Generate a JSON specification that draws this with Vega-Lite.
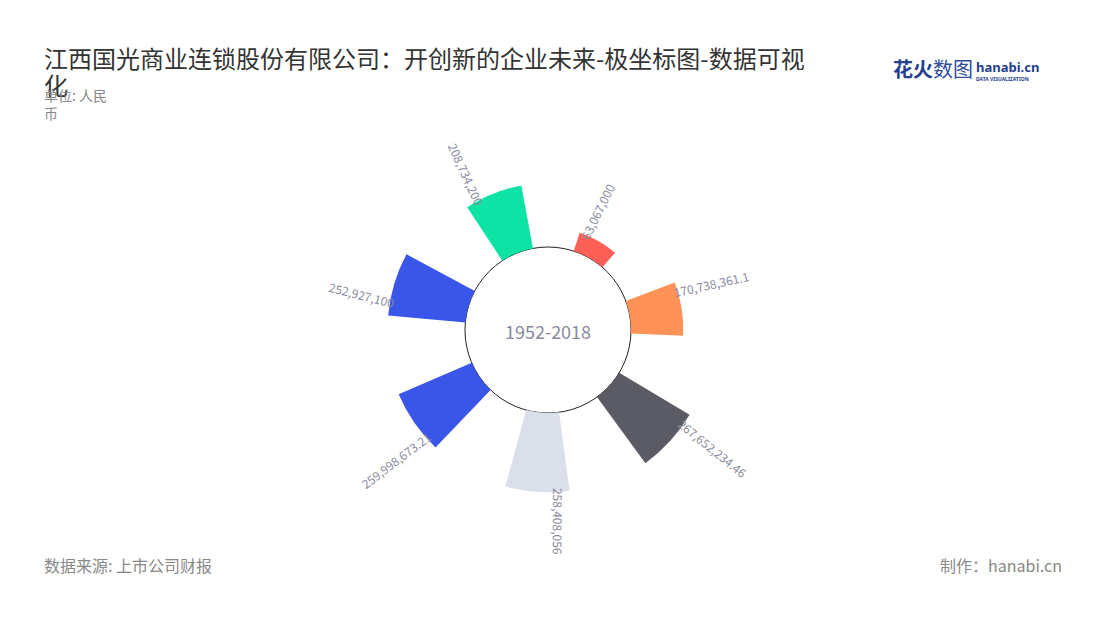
{
  "$schema": "https://vega.github.io/schema/vega-lite/v6.json",
  "autosize": "none",
  "width": 1028,
  "height": 410,
  "padding": {"left": 34, "top": 125, "right": 38, "bottom": 85},
  "background": "#ffffff",
  "config": {"view": {"stroke": null}},
  "title": {
    "text": ["江西国光商业连锁股份有限公司：开创新的企业未来-极坐标图-数据可视", "化"],
    "subtitle": ["单位: 人民", "币"],
    "anchor": "start",
    "frame": "group",
    "dx": 10,
    "offset": -61,
    "font": "Noto Sans CJK SC",
    "fontSize": 24,
    "fontWeight": "normal",
    "lineHeight": 27,
    "color": "#333333",
    "subtitleFont": "Noto Sans CJK SC",
    "subtitleFontSize": 14,
    "subtitleLineHeight": 18,
    "subtitleColor": "#888888",
    "subtitlePadding": -10
  },
  "datasets": {
    "bars": [
      {"cat": "类别1", "value": 63067000},
      {"cat": "类别2", "value": 170738361.1},
      {"cat": "类别3", "value": 267652234.46},
      {"cat": "类别4", "value": 258408056},
      {"cat": "类别5", "value": 259998673.21},
      {"cat": "类别6", "value": 252927100},
      {"cat": "类别7", "value": 208734200}
    ]
  },
  "layer": [
    {
      "data": {"values": [{"label": "circle"}]},
      "mark": {"type": "arc", "theta": 0, "theta2": 6.2832, "radius": 83, "radius2": 0, "fill": "#ffffff", "stroke": "#222222", "strokeWidth": 1},
      "encoding": {}
    },
    {
      "data": {"name": "bars"},
      "transform": [{"window": [{"op": "row_number", "as": "rn"}]}],
      "mark": {"type": "arc", "thetaOffset": -0.2, "theta2Offset": 0.2},
      "encoding": {
        "theta": {"field": "rn", "type": "quantitative", "stack": null, "scale": {"domain": [0.5, 7.5], "range": [0.0663, 6.3495]}},
        "theta2": {"field": "rn"},
        "radius": {"field": "value", "type": "quantitative", "scale": {"type": "linear", "domain": [0, 267652234.46], "range": [83, 165], "zero": false}},
        "radius2": {"datum": 0},
        "color": {
          "field": "cat", "type": "nominal", "legend": null,
          "scale": {
            "domain": ["类别1", "类别2", "类别3", "类别4", "类别5", "类别6", "类别7"],
            "range": ["#fe5f57", "#ff9257", "#5b5b66", "#dadfea", "#3a56e8", "#3a56e8", "#0ce3a4"]
          }
        }
      }
    },
    {
      "data": {"name": "bars"},
      "transform": [{"window": [{"op": "row_number", "as": "rn"}]}, {"filter": "datum.rn <= 4"}],
      "mark": {"type": "text", "align": "left", "baseline": "middle", "dx": -4, "thetaOffset": -0.122, "font": "Noto Sans CJK SC", "fontSize": 12, "fill": "#8b8b9e"},
      "encoding": {
        "theta": {"field": "rn", "type": "quantitative", "stack": null},
        "radius": {"field": "value", "type": "quantitative"},
        "text": {"field": "value", "type": "quantitative", "format": ",.12~g"},
        "angle": {"field": "rn", "type": "quantitative", "legend": null, "scale": {"domain": [1, 4], "range": [-64, 90.3]}}
      }
    },
    {
      "data": {"name": "bars"},
      "transform": [{"window": [{"op": "row_number", "as": "rn"}]}, {"filter": "datum.rn >= 5"}],
      "mark": {"type": "text", "align": "right", "baseline": "middle", "dx": 4, "thetaOffset": -0.122, "font": "Noto Sans CJK SC", "fontSize": 12, "fill": "#8b8b9e"},
      "encoding": {
        "theta": {"field": "rn", "type": "quantitative", "stack": null},
        "radius": {"field": "value", "type": "quantitative"},
        "text": {"field": "value", "type": "quantitative", "format": ",.12~g"},
        "angle": {"field": "rn", "type": "quantitative", "legend": null, "scale": {"domain": [5, 7], "range": [-37.2, 65.7]}}
      }
    },
    {
      "data": {"values": [{"label": "1952-2018"}]},
      "mark": {"type": "text", "align": "center", "baseline": "middle", "dy": 4, "font": "Noto Sans CJK SC", "fontSize": 18, "fill": "#8a8a9e"},
      "encoding": {"text": {"field": "label", "type": "nominal"}}
    },
    {
      "data": {"values": [{"label": "数据来源: 上市公司财报"}]},
      "mark": {"type": "text", "align": "left", "baseline": "middle", "x": 10, "y": {"expr": "height + 32"}, "font": "Noto Sans CJK SC", "fontSize": 16, "fill": "#888888"},
      "encoding": {"text": {"field": "label", "type": "nominal"}}
    },
    {
      "data": {"values": [{"label": "制作：hanabi.cn"}]},
      "mark": {"type": "text", "align": "right", "baseline": "middle", "x": {"expr": "width"}, "y": {"expr": "height + 32"}, "font": "Noto Sans CJK SC", "fontSize": 16, "fill": "#888888"},
      "encoding": {"text": {"field": "label", "type": "nominal"}}
    },
    {
      "data": {"values": [{"label": "花火"}]},
      "mark": {"type": "text", "align": "left", "baseline": "middle", "x": {"expr": "width - 169"}, "y": -54, "font": "Noto Sans CJK SC", "fontSize": 20, "fontWeight": "bold", "fill": "#25418f"},
      "encoding": {"text": {"field": "label", "type": "nominal"}}
    },
    {
      "data": {"values": [{"label": "数图"}]},
      "mark": {"type": "text", "align": "left", "baseline": "middle", "x": {"expr": "width - 129"}, "y": -54, "font": "Noto Sans CJK SC", "fontSize": 20, "fontWeight": "normal", "fill": "#2f4c9a"},
      "encoding": {"text": {"field": "label", "type": "nominal"}}
    },
    {
      "data": {"values": [{"label": "hanabi.cn"}]},
      "mark": {"type": "text", "align": "left", "baseline": "middle", "x": {"expr": "width - 86"}, "y": -57, "font": "Noto Sans", "fontSize": 13, "fontWeight": "bold", "fill": "#25418f"},
      "encoding": {"text": {"field": "label", "type": "nominal"}}
    },
    {
      "data": {"values": [{"label": "DATA VISUALIZATION"}]},
      "mark": {"type": "text", "align": "left", "baseline": "middle", "x": {"expr": "width - 86"}, "y": -46, "font": "Noto Sans", "fontSize": 5, "fontWeight": "bold", "fill": "#25418f"},
      "encoding": {"text": {"field": "label", "type": "nominal"}}
    }
  ],
  "resolve": {"scale": {"angle": "independent"}}
}
